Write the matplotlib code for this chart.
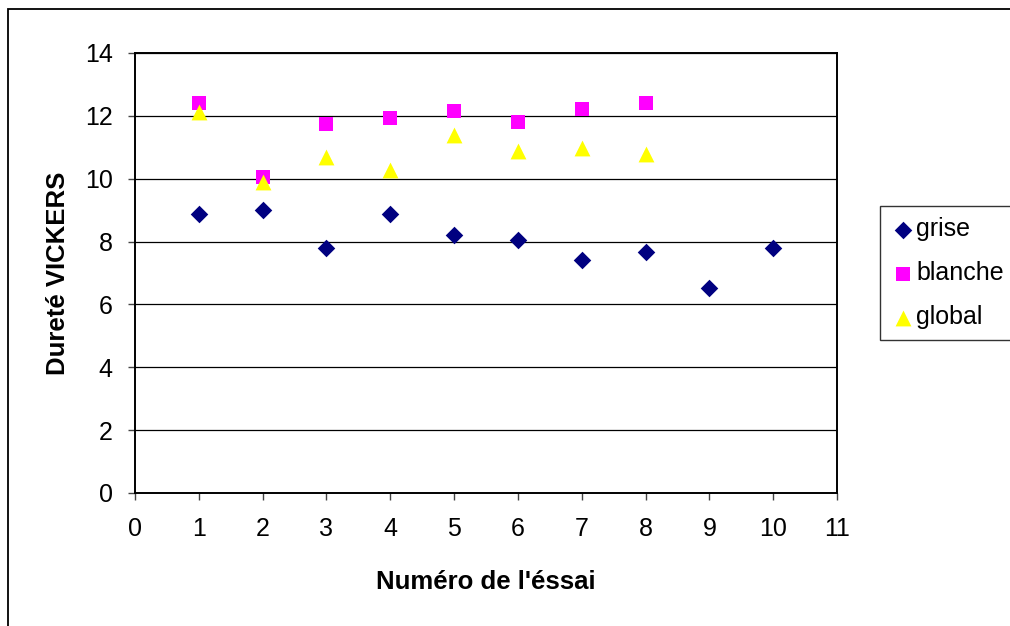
import matplotlib
matplotlib.use("Agg")
import matplotlib.pyplot as plt
from matplotlib.patches import Rectangle

plt.rcParams['font.family'] = ['Liberation Sans', 'DejaVu Sans']

x_grise = [1, 2, 3, 4, 5, 6, 7, 8, 9, 10]
grise = [8.88, 9.0, 7.8, 8.88, 8.2, 8.05, 7.41, 7.67, 6.52, 7.8]
x_blanche = [1, 2, 3, 4, 5, 6, 7, 8]
blanche = [12.41, 10.05, 11.74, 11.93, 12.15, 11.8, 12.22, 12.41]
x_global = [1, 2, 3, 4, 5, 6, 7, 8]
global_ = [12.12, 9.9, 10.69, 10.28, 11.39, 10.88, 10.98, 10.79]
labels = ['grise', 'blanche', 'global']

fig = plt.figure(figsize=(10.1, 6.26), dpi=100)
ax = fig.add_axes([135/1010, 1-493/626, (837-135)/1010, (493-53)/626])

ax.scatter(x_grise, grise, marker='D', s=80, color='#000080', label=labels[0], zorder=3, linewidths=0)
ax.scatter(x_blanche, blanche, marker='s', s=95, color='#FF00FF', label=labels[1], zorder=3, linewidths=0)
ax.scatter(x_global, global_, marker='^', s=130, color='#FFFF00', label=labels[2], zorder=3, linewidths=0)

ax.set_xlim(0, 11)
ax.set_ylim(0, 14)
ax.set_xticks(range(0, 12))
ax.set_yticks(range(0, 15, 2))
ax.yaxis.grid(True, color='black', linewidth=0.9)
ax.set_axisbelow(True)
for s in ax.spines.values():
    s.set_linewidth(1.4)
    s.set_color('black')
ax.tick_params(axis='both', labelsize=18, direction='out', length=5, width=1, color='#444444')
ax.tick_params(axis='x', pad=12)
ax.tick_params(axis='y', pad=11)
ax.set_xlabel("Numéro de l'éssai", fontsize=18.5, fontweight='bold', labelpad=21)
ax.set_ylabel("Dureté VICKERS", fontsize=18.5, fontweight='bold', labelpad=11)

leg = ax.legend(loc='upper left', bbox_to_anchor=(880/1010, 1-206/626), bbox_transform=fig.transFigure,
                frameon=True, fancybox=False, edgecolor='black', fontsize=18,
                handletextpad=0.1, handlelength=0.9, borderpad=0.45, labelspacing=0.8,
                borderaxespad=0.0)
leg.get_frame().set_linewidth(1.0)

fig.patches.append(Rectangle((8/1010, -0.1), 1.2, 1-9/626+0.1, transform=fig.transFigure,
                             fill=False, edgecolor='black', linewidth=1.3, clip_on=False))

fig.savefig('out.png', dpi=100)
